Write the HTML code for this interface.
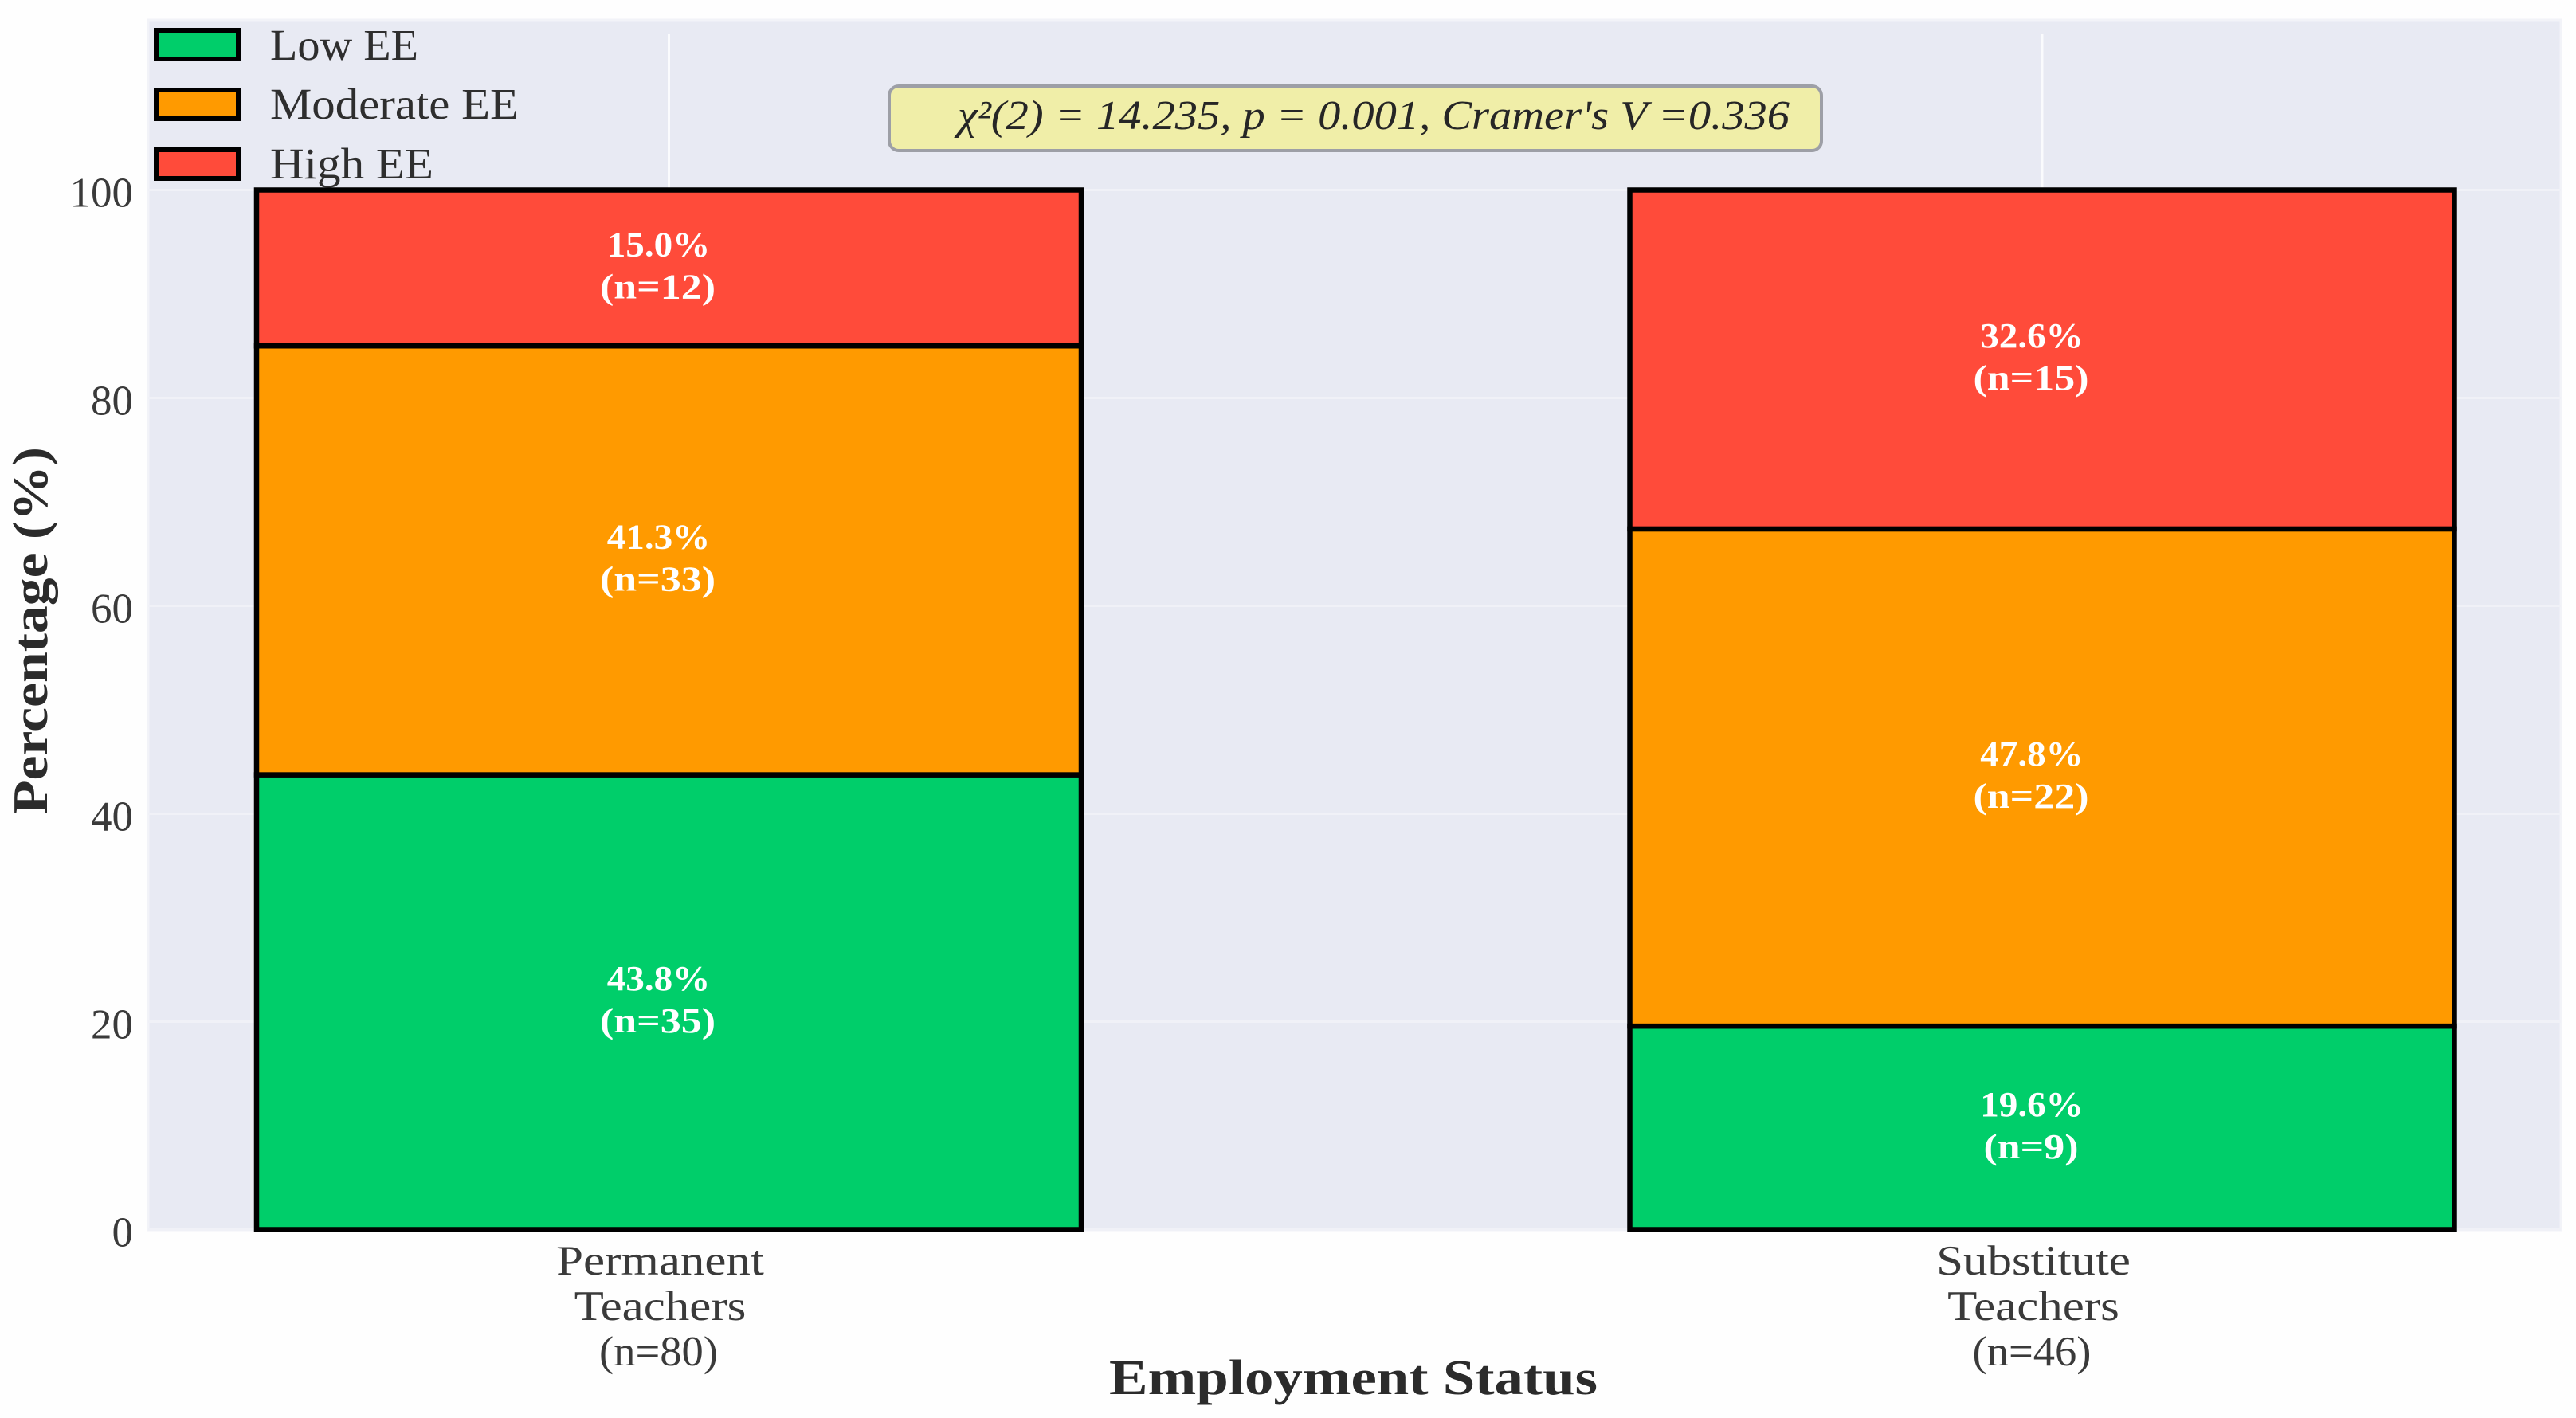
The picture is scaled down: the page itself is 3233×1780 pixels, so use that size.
<!DOCTYPE html>
<html lang="en">
<head>
<meta charset="utf-8">
<title>Emotional exhaustion by employment status</title>
<style>
html,body{margin:0;padding:0;background:#fff;}
svg{display:block;}
text{font-family:"Liberation Serif","DejaVu Serif",serif;}
</style>
</head>
<body>
<svg id="chart" xmlns="http://www.w3.org/2000/svg" width="3233" height="1780" viewBox="0 0 3233 1780">
  <rect x="0" y="0" width="3233" height="1780" fill="#fefefe"/>
  <rect x="186" y="25" width="3028" height="1519" fill="#e8eaf3" stroke="#f2f3f8" stroke-width="3"/>
  <g id="grid"></g>
  <g id="bars"></g>
  <g id="y-ticks"></g>
  <g id="x-ticks"></g>

  <text transform="translate(59,1022) rotate(-90)" font-size="62" font-weight="700" fill="#2b2b2b" textLength="461" lengthAdjust="spacingAndGlyphs">Percentage (%)</text>
  <text x="1392" y="1750" font-size="62" font-weight="700" fill="#2b2b2b" textLength="613" lengthAdjust="spacingAndGlyphs">Employment Status</text>

  <g>
    <g>
      <rect x="196" y="38" width="103" height="36" fill="#00ce6a" stroke="#000" stroke-width="6"/>
      <text x="339" y="75" font-size="55" fill="#2e2e2e" textLength="186" lengthAdjust="spacingAndGlyphs">Low EE</text>
    </g>
    <g>
      <rect x="196" y="113" width="103" height="36" fill="#ff9a00" stroke="#000" stroke-width="6"/>
      <text x="339" y="149" font-size="55" fill="#2e2e2e" textLength="312" lengthAdjust="spacingAndGlyphs">Moderate EE</text>
    </g>
    <g>
      <rect x="196" y="188" width="103" height="36" fill="#ff4b3a" stroke="#000" stroke-width="6"/>
      <text x="339" y="224" font-size="55" fill="#2e2e2e" textLength="205" lengthAdjust="spacingAndGlyphs">High EE</text>
    </g>
  </g>

  <g>
    <rect x="1116" y="108" width="1170" height="81" rx="12" ry="12" fill="#f0eea8" stroke="#9d9fa6" stroke-width="4"/>
    <text x="1202" y="162" font-size="52" font-style="italic" fill="#262626" textLength="1044" lengthAdjust="spacingAndGlyphs">χ²(2) = 14.235, p = 0.001, Cramer's V =0.336</text>
  </g>
</svg>
<script>
// Chart data
const categoryLabels = [["Permanent", "Teachers", "(n=80)"], ["Substitute", "Teachers", "(n=46)"]];
const seriesNames = ["low", "moderate", "high"];
const lowPercent = [43.75, 19.57];
const moderatePercent = [41.25, 47.83];
const highPercent = [15.0, 32.6];
const lowCounts = [35, 9];
const moderateCounts = [33, 22];
const highCounts = [12, 15];
const yTickValues = [0, 20, 40, 60, 80, 100];

const seriesPercent = [lowPercent, moderatePercent, highPercent];
const seriesCounts = [lowCounts, moderateCounts, highCounts];
const seriesColors = ["#00ce6a", "#ff9a00", "#ff4b3a"];

// Axis functions
function yScale(v) { return 1543.5 - v * 13.05; }
function xScale(i) { return 839.5 + i * 1723.5; }
const barWidth = 1035;
const NS = "http://www.w3.org/2000/svg";

function make(tag, parent) {
  const el = document.createElementNS(NS, tag);
  parent.appendChild(el);
  return el;
}
function stretch(el, factor) {
  const len = el.getComputedTextLength();
  el.setAttribute("textLength", (len * factor).toFixed(1));
  el.setAttribute("lengthAdjust", "spacingAndGlyphs");
}

const grid = document.getElementById("grid");
const bars = document.getElementById("bars");
const yTicks = document.getElementById("y-ticks");
const xTicks = document.getElementById("x-ticks");

yTickValues.forEach(function (v) {
  const line = make("line", grid);
  
  
  line.setAttribute("x1", 186);
  line.setAttribute("x2", 3214);
  line.setAttribute("y1", yScale(v));
  line.setAttribute("y2", yScale(v));
  line.setAttribute("stroke", "#f0f1f7");
  line.setAttribute("stroke-width", 3);

  const label = make("text", yTicks);
  
  
  label.setAttribute("x", 167);
  label.setAttribute("y", yScale(v) + 21);
  label.setAttribute("text-anchor", "end");
  label.setAttribute("font-size", 53);
  label.setAttribute("fill", "#3a3a3a");
  label.textContent = String(v);
});

categoryLabels.forEach(function (lines, i) {
  const cx = xScale(i);

  const vline = make("line", grid);
  
  
  vline.setAttribute("x1", cx);
  vline.setAttribute("x2", cx);
  vline.setAttribute("y1", 43);
  vline.setAttribute("y2", 1543);
  vline.setAttribute("stroke", "#fafbfd");
  vline.setAttribute("stroke-width", 3);

  let base = 0;
  seriesPercent.forEach(function (values, s) {
    const top = base + values[i];
    const rect = make("rect", bars);
    
    
    rect.setAttribute("x", cx - barWidth / 2);
    rect.setAttribute("y", yScale(top));
    rect.setAttribute("width", barWidth);
    rect.setAttribute("height", yScale(base) - yScale(top));
    rect.setAttribute("fill", seriesColors[s]);
    rect.setAttribute("stroke", "#000");
    rect.setAttribute("stroke-width", 6.5);
    rect.setAttribute("class", "segment-" + seriesNames[s]);
    base = top;
  });

  base = 0;
  seriesPercent.forEach(function (values, s) {
    const top = base + values[i];
    const mid = yScale(base + values[i] / 2);
    const pct = make("text", bars);
    
    
    pct.setAttribute("x", cx - 13);
    pct.setAttribute("y", mid - 15);
    pct.setAttribute("text-anchor", "middle");
    pct.setAttribute("font-size", 44);
    pct.setAttribute("font-weight", 700);
    pct.setAttribute("fill", "#fff");
    pct.textContent = values[i].toFixed(1) + "%";
    stretch(pct, 1.07);

    const cnt = make("text", bars);
    
    
    cnt.setAttribute("x", cx - 14);
    cnt.setAttribute("y", mid + 38);
    cnt.setAttribute("text-anchor", "middle");
    cnt.setAttribute("font-size", 44);
    cnt.setAttribute("font-weight", 700);
    cnt.setAttribute("fill", "#fff");
    cnt.textContent = "(n=" + seriesCounts[s][i] + ")";
    stretch(cnt, 1.18);
    base = top;
  });

  lines.forEach(function (line, k) {
    const t = make("text", xTicks);
    
    
    t.setAttribute("x", cx - (k === 2 ? 13 : 11));
    t.setAttribute("y", 1600 + k * 57);
    t.setAttribute("text-anchor", "middle");
    t.setAttribute("font-size", 53);
    t.setAttribute("fill", "#3a3a3a");
    t.textContent = line;
    stretch(t, k === 2 ? 1.03 : 1.15);
  });
});
</script>
</body>
</html>
